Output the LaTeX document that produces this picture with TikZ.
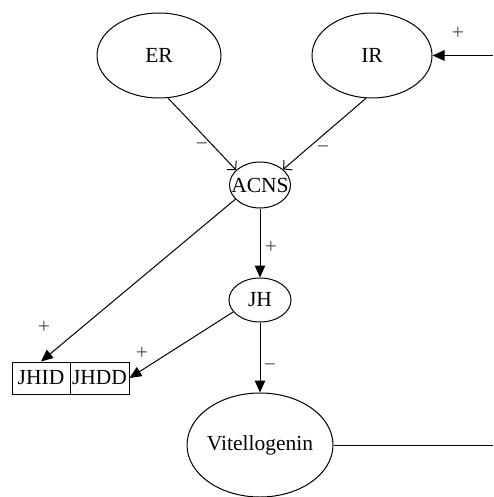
\documentclass[tikz,border=0pt]{standalone}
\usepackage{fontspec}
\setmainfont{Liberation Serif}
\usetikzlibrary{shapes.geometric,arrows.meta}
\begin{document}
\begin{tikzpicture}[x=1pt,y=-1pt,
  every node/.style={font=\fontsize{21.5}{25}\selectfont},
  oval/.style={ellipse,draw,line width=1pt,inner sep=0pt},
  cell/.style={rectangle,draw,line width=1pt,inner sep=0pt,minimum height=32pt},
  sign/.style={inner sep=0pt,text=black!70},
  link/.style={line width=1pt},
  up/.style={link,-{Triangle[length=12pt,width=10.5pt]}},
  down/.style={link,-{Straight Barb[length=6pt,width=13pt,line width=1pt]}}]
\useasboundingbox (0,0) rectangle (493,497);

% states
\node[oval,minimum width=124pt,minimum height=85pt,label={center:ER}] (ER) at (159,55.5) {};
\node[oval,minimum width=120pt,minimum height=85pt,label={center:IR}] (IR) at (372,55.5) {};
\node[oval,minimum width=61pt,minimum height=46pt,label={center:ACNS}] (ACNS) at (260,185) {};
\node[oval,minimum width=62pt,minimum height=44pt,label={center:JH}] (JH) at (260,300) {};
\node[oval,minimum width=146pt,minimum height=104pt,label={center:Vitellogenin}] (VG) at (260,445) {};

% record with two fields
\node[cell,minimum width=58pt] (JHID) at (41,378) {JHID};
\node[cell,minimum width=59pt] (JHDD) at (99.5,378) {JHDD};

% free ends
\coordinate (inR) at (493,55.5);
\coordinate (outR) at (493,445);

% connectors
\draw[up] (inR) -- (IR.east);
\draw[down] (ER.-78) -- (ACNS.148);
\draw[down] (IR.-98) -- (ACNS.34);
\draw[up] (ACNS.south) -- (JH.north);
\draw[up] (ACNS.-150) -- (JHID.north);
\draw[up] (JH.-156) -- (JHDD.east);
\draw[up] (JH.south) -- (VG.north);
\draw[link] (VG.east) -- (outR);

% signs
\node[sign] (s1) at (458,33) {+};
\node[sign] (s2) at (202,147) {−};
\node[sign] (s3) at (323,150) {−};
\node[sign] (s4) at (271,247) {+};
\node[sign] (s5) at (44,327) {+};
\node[sign] (s6) at (142,353) {+};
\node[sign] (s7) at (270,368) {−};
\end{tikzpicture}
\end{document}
